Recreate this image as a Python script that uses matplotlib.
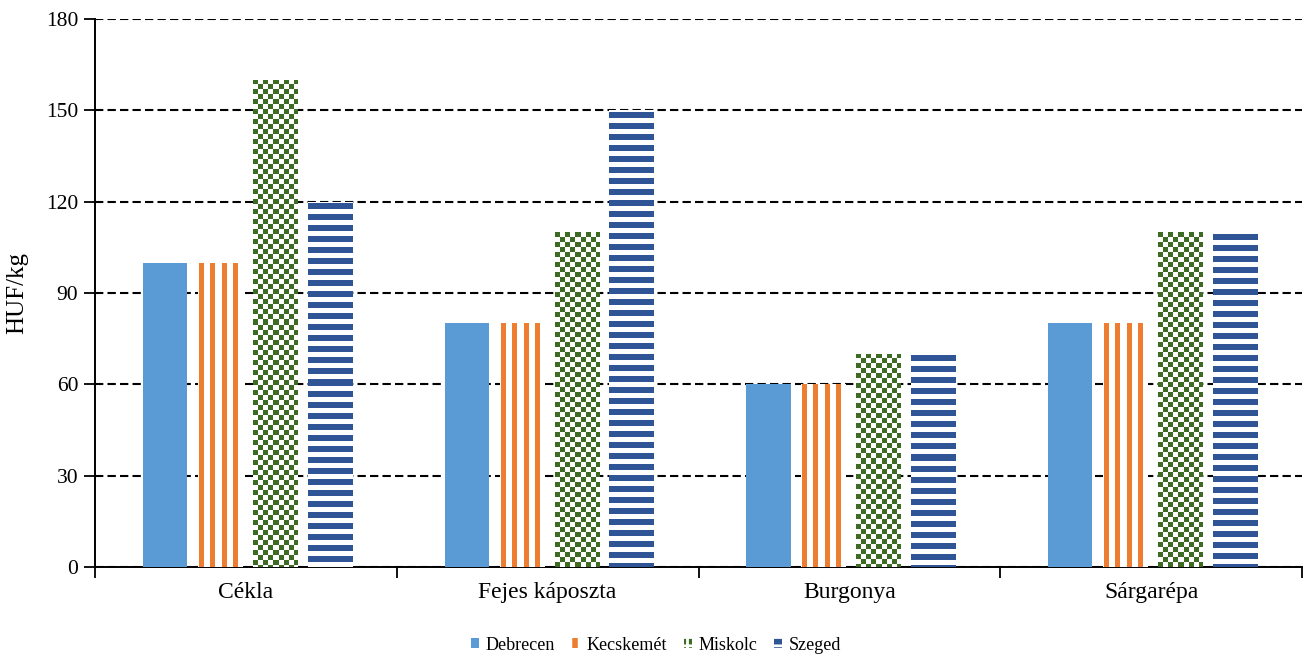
import numpy as np
import matplotlib
matplotlib.use("Agg")
import matplotlib.pyplot as plt
from matplotlib.patches import Patch

plt.rcParams['font.family'] = ['Liberation Serif', 'DejaVu Serif']
plt.rcParams['hatch.linewidth'] = 2.0

categories = ['Cékla', 'Fejes káposzta', 'Burgonya', 'Sárgarépa']
cities = ['Debrecen', 'Kecskemét', 'Miskolc', 'Szeged']
debrecen = [100, 80, 60, 80]
kecskemet = [100, 80, 60, 80]
miskolc = [160, 110, 70, 110]
szeged = [120, 150, 70, 110]
yticks = [0, 30, 60, 90, 120, 150, 180]

c_blue = '#5b9bd5'
c_orange = '#ed7d31'
c_green = '#3d6b24'
c_navy = '#2f5597'

W, H, DPI = 1306, 655, 100
fig = plt.figure(figsize=(W / DPI, H / DPI), dpi=DPI)
ax = fig.add_axes([95 / W, 88 / H, (1302 - 95) / W, (567 - 19) / H])

x = np.arange(len(categories))
bw = 0.146
step = 0.182
shift = 0.005
ax.set_xlim(-0.5, len(categories) - 0.5)
ax.set_ylim(0, 180)


def pattern_img(kind, w, h, color):
    ix = np.arange(w)[None, :]
    iy = np.arange(h)[:, None]
    if kind == 'vert':
        on = ((ix + 10) % 11) < 5
        on = np.broadcast_to(on, (h, w))
    elif kind == 'horiz':
        on = ((iy + 9) % 11) < 6
        on = np.broadcast_to(on, (h, w))
    else:
        on = ((ix // 5) + (iy // 5)) % 2 == 0
    rgb = np.array(matplotlib.colors.to_rgb(color))
    img = np.ones((h, w, 3))
    img[on] = rgb
    return img


def fill_pattern(bars, kind, color):
    for p in bars:
        x0, y0 = p.get_x(), p.get_y()
        x1, y1 = x0 + p.get_width(), y0 + p.get_height()
        (px0, py0), (px1, py1) = ax.transData.transform([(x0, y0), (x1, y1)])
        w = max(int(round(px1 - px0)), 1)
        h = max(int(round(py1 - py0)), 1)
        img = pattern_img(kind, w, h, color)
        im = ax.imshow(img, extent=(x0, x1, y0, y1), origin='upper',
                       interpolation='nearest', aspect='auto', zorder=3)
        im.set_clip_path(p)


b1 = ax.bar(x - 1.5 * step + shift, debrecen, bw, color=c_blue, zorder=3)
b2 = ax.bar(x - 0.5 * step + shift, kecskemet, bw, color='none', zorder=3)
b3 = ax.bar(x + 0.5 * step + shift, miskolc, bw, color='none', zorder=3)
b4 = ax.bar(x + 1.5 * step + shift, szeged, bw, color='none', zorder=3)
fill_pattern(b2, 'vert', c_orange)
fill_pattern(b3, 'check', c_green)
fill_pattern(b4, 'horiz', c_navy)
ax.set_xlim(-0.5, len(categories) - 0.5)
ax.set_ylim(0, 180)

ax.set_yticks(yticks)
ax.yaxis.grid(True, color='black', linestyle=(0, (4, 2)), linewidth=1.5, zorder=0)
ax.set_axisbelow(True)
ax.set_xticks(np.arange(len(categories) + 1) - 0.5)
ax.set_xticklabels([])
ax.set_xticks(x, categories, minor=True)
ax.tick_params(axis='x', which='minor', length=0, labelsize=17, pad=11)
ax.tick_params(axis='x', which='major', length=8, width=1.3, direction='out')
ax.tick_params(axis='y', length=8, width=1.3, direction='out', labelsize=15.5, pad=4)
for s in ['top', 'right']:
    ax.spines[s].set_visible(False)
for s in ['left', 'bottom']:
    ax.spines[s].set_linewidth(1.4)
ax.set_ylabel('HUF/kg', fontsize=18)
ax.yaxis.set_label_coords(-0.055, 0.5)

# legend keys: coloured face with white hatch lines
handles = [
    Patch(facecolor=c_blue, edgecolor=c_blue, linewidth=0),
    Patch(facecolor=c_orange, edgecolor='white', hatch='||', linewidth=0),
    Patch(facecolor=c_green, edgecolor='white', hatch='++', linewidth=0),
    Patch(facecolor=c_navy, edgecolor='white', hatch='--', linewidth=0),
]
fig.legend(handles, cities, loc='center', bbox_to_anchor=(656 / W, 1 - 645 / H),
           ncol=4, frameon=False, fontsize=13, handlelength=0.45, handleheight=0.45,
           handletextpad=0.35, columnspacing=0.95)

fig.savefig('out.png', dpi=DPI)
